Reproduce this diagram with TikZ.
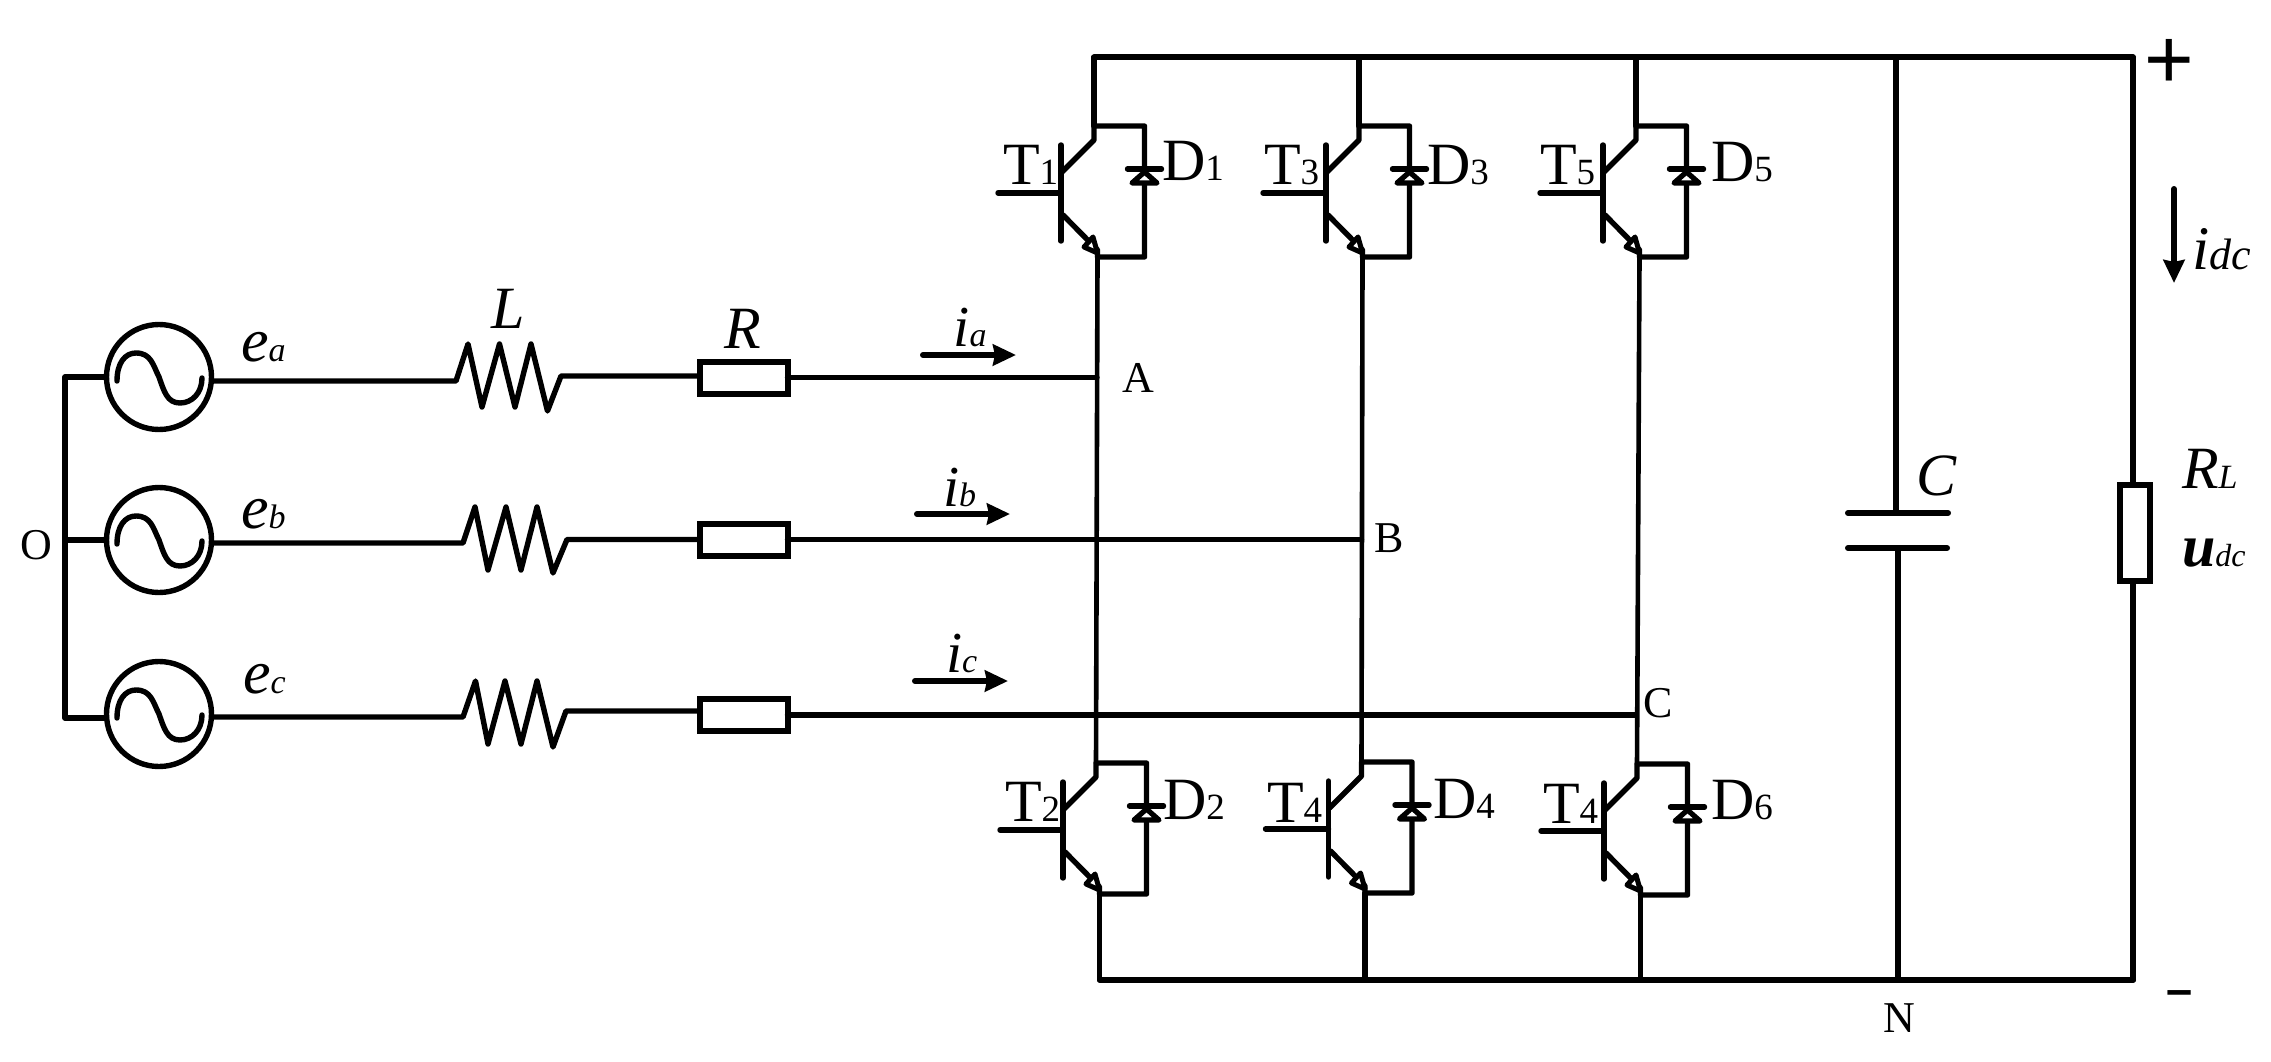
\documentclass[tikz,border=0pt]{standalone}
\usepackage{fontspec}
\setmainfont{Liberation Serif}
\newfontfamily\signfont{Liberation Sans}
\usetikzlibrary{arrows.meta}
\newcommand{\upsub}[2]{{\fontsize{60}{60}\selectfont #1}{\fontsize{37}{37}\selectfont #2}}
\newcommand{\itsub}[4]{{\itshape{\fontsize{#1}{#1}\selectfont #3}{\fontsize{#2}{#2}\selectfont #4}}}
\newcommand{\smallup}[1]{{\fontsize{44}{44}\selectfont #1}}
\tikzset{
  wire/.style={line width=5.4pt,line cap=round,line join=round},
  thin wire/.style={line width=4.6pt,line cap=round,line join=round},
  rail/.style={line width=6pt,line cap=round,line join=round},
  lab/.style={anchor=base west,inner sep=0pt,outer sep=0pt,text=black},
  res/.style={draw=black,fill=white,line width=6pt,inner sep=0pt,outer sep=0pt,rectangle},
  hres/.style={res,minimum width=88pt,minimum height=32pt},
  vres/.style={res,minimum width=30pt,minimum height=96pt},
  source/.style={draw=black,fill=white,line width=5.4pt,circle,inner sep=0pt,outer sep=0pt,minimum size=105pt},
  cur/.style={line width=6pt,line cap=round,-{Stealth[length=23pt,width=21pt,inset=2pt]}},
  pics/igbt/.style={code={
    \coordinate (-c) at (33,-67);
    \coordinate (-e) at (36.5,64);
    \draw[wire] (0,-48) -- (0,48);
    \draw[wire] (-63,0) -- (0,0);
    \draw[wire] (1,-21) -- (33,-53) -- (-c) -- (83.5,-67) -- (83.5,64) -- (-e);
    \draw[wire] (2,22) -- (36.5,57) -- (-e);
    \draw[line width=5pt,line join=round,fill=white] (36.5,60) -- (23,54) -- (32,44) -- cycle;
    \draw[wire] (66.5,-24) -- (100.5,-24);
    \draw[line width=5.2pt,line join=round,fill=white] (83.5,-21) -- (71,-10) -- (96,-10) -- cycle;
  }},
  pics/sine/.style={code={
    \draw[wire] (-42,4) .. controls (-42,-14) and (-34,-24) .. (-23,-24)
      .. controls (-8,-24) and (-6,-12) .. (0,0)
      .. controls (5,14) and (8,26) .. (21,26)
      .. controls (33,26) and (43,16) .. (43,1);
  }},
}
\begin{document}
\begin{tikzpicture}[x=1pt,y=-1pt]
\useasboundingbox (0,0) rectangle (2271,1062);
\fill[white] (0,0) rectangle (2271,1062);

% rails and fixed points
\coordinate (railTL) at (1094,57.5);
\coordinate (railTR) at (2133,57.5);
\coordinate (railBL) at (1100,980);
\coordinate (railBR) at (2133,980);
\coordinate (capTop) at (1896,57.5);
\coordinate (capA) at (1896,513);
\coordinate (capB) at (1898,548);
\coordinate (capBot) at (1898,980);
\coordinate (star1) at (65,377);
\coordinate (star3) at (65,718);
\coordinate (jA) at (1097,377.5);
\coordinate (jB) at (1361.5,539.5);
\coordinate (jC) at (1636,715);

% switches
\pic (T1) at (1061,193) {igbt};
\pic (T3) at (1326,193) {igbt};
\pic (T5) at (1603,193) {igbt};
\pic (T2) at (1063,830) {igbt};
\pic (T4) at (1328.5,829) {igbt};
\pic (T6) at (1604,831) {igbt};

\draw[rail] (railTL) -- (railTR);
\draw[rail] (railBL) -- (railBR);
\draw[wire] (railTL) -- (T1-c);
\draw[wire] (T3-c |- railTL) -- (T3-c);
\draw[wire] (T5-c |- railTL) -- (T5-c);
\draw[wire] (T2-e) -- (T2-e |- railBL);
\draw[wire] (T4-e) -- (T4-e |- railBL);
\draw[wire] (T6-e) -- (T6-e |- railBL);
\draw[thin wire] (T1-e) -- (T2-c);
\draw[thin wire] (T3-e) -- (T4-c);
\draw[thin wire] (T5-e) -- (T6-c);

% capacitor and load
\draw[wire] (capTop) -- (capA);
\draw[wire] (capB) -- (capBot);
\draw[rail] (1848,513) -- (capA) -- (1948,513);
\draw[rail] (1848,548) -- (capB) -- (1947,548);
\node[vres] (RL) at (2135,533) {};
\draw[wire] (railTR) -- (RL.north -| railTR);
\draw[wire] (RL.south -| railBR) -- (railBR);

% sources
\node[source] (ea) at (159,377) {};
\node[source] (eb) at (159,540) {};
\node[source] (ec) at (159,714) {};
\pic at (ea) {sine};
\pic at (eb) {sine};
\pic at (ec) {sine};
\draw[wire] (ea.west) -- (star1) -- (star3) -- (ec.west |- star3);
\draw[wire] (star1 |- eb) -- (eb.west);

% phase lines
\node[hres] (Ra) at (743.5,377.5) {};
\node[hres] (Rb) at (743.5,540) {};
\node[hres] (Rc) at (743.5,714.5) {};
\coordinate (La) at (456,381);
\coordinate (Lb) at (463,543);
\coordinate (Lc) at (463,717);
\coordinate (Ma) at (561,376);
\coordinate (Mb) at (567,539.5);
\coordinate (Mc) at (566,711);
\draw[wire] (ea.east |- La) -- (La) -- (468,344) -- (482,407) -- (499.5,344) -- (515,407) -- (531,344) -- (547.5,411) -- (Ma) -- (Ra.west |- Ma);
\draw[wire] (eb.east |- Lb) -- (Lb) -- (475,507) -- (488,570) -- (506,507) -- (521,570) -- (537,507) -- (553,573) -- (Mb) -- (Rb.west |- Mb);
\draw[wire] (ec.east |- Lc) -- (Lc) -- (475.5,681) -- (488,744) -- (505,681) -- (521,744) -- (537,681) -- (553,747) -- (Mc) -- (Rc.west |- Mc);
\draw[wire] (Ra.east) -- (jA);
\draw[wire] (Rb.east |- jB) -- (jB);
\draw[wire] (Rc.east |- jC) -- (jC);

% current arrows
\coordinate (ia1) at (923,355); \coordinate (ia2) at (1016,355);
\coordinate (ib1) at (917,514); \coordinate (ib2) at (1010,514);
\coordinate (ic1) at (915,681); \coordinate (ic2) at (1008,681);
\coordinate (id1) at (2174,189); \coordinate (id2) at (2174,283);
\draw[cur] (ia1) -- (ia2);
\draw[cur] (ib1) -- (ib2);
\draw[cur] (ic1) -- (ic2);
\draw[cur] (id1) -- (id2);

% labels
\node[lab] (lT1) at (1003,185) {\upsub{T}{1}};
\node[lab] (lD1) at (1162,181) {\upsub{D}{1}};
\node[lab] (lT3) at (1264,184) {\upsub{T}{3}};
\node[lab] (lD3) at (1427,185) {\upsub{D}{3}};
\node[lab] (lT5) at (1540,185) {\upsub{T}{5}};
\node[lab] (lD5) at (1711,182) {\upsub{D}{5}};
\node[lab] (lT2) at (1005,821) {\upsub{T}{2}};
\node[lab] (lD2) at (1163,819) {\upsub{D}{2}};
\node[lab] (lT4) at (1267,822) {\upsub{T}{4}};
\node[lab] (lD4) at (1433,818) {\upsub{D}{4}};
\node[lab] (lT6) at (1543,823) {\upsub{T}{4}};
\node[lab] (lD6) at (1711,819) {\upsub{D}{6}};
\node[lab] (lea) at (241,361) {\itsub{62}{34}{e}{a}};
\node[lab] (leb) at (241,528) {\itsub{62}{34}{e}{b}};
\node[lab] (lec) at (243,693) {\itsub{62}{34}{e}{c}};
\node[lab] (lL) at (491,328) {\itsub{60}{34}{L}{}};
\node[lab] (lR) at (724,348) {\itsub{60}{34}{R}{}};
\node[lab] (lia) at (953.5,346) {\itsub{58}{34}{i}{a}};
\node[lab] (lib) at (943,506) {\itsub{58}{34}{i}{b}};
\node[lab] (lic) at (946,672) {\itsub{58}{34}{i}{c}};
\node[lab] (lidc) at (2192,269) {\itsub{62}{44}{i}{dc}};
\node[lab] (lC) at (1916,495) {\itsub{60}{34}{C}{}};
\node[lab] (lRL) at (2182,488) {\itsub{60}{34}{R}{L}};
\node[lab] (ludc) at (2182,566) {\itsub{60}{32}{\bfseries u}{dc}};
\node[lab] (lA) at (1122,392) {\smallup{A}};
\node[lab] (lB) at (1374,552) {\smallup{B}};
\node[lab] (lCC) at (1643,717) {\smallup{C}};
\node[lab] (lO) at (20,559) {\smallup{O}};
\node[lab] (lN) at (1883,1032) {\smallup{N}};
\node[inner sep=0pt,outer sep=0pt] (plus) at (2169,64) {{\signfont\fontsize{85}{85}\selectfont +}};
\node[inner sep=0pt,outer sep=0pt] (minus) at (2180,998) {{\signfont\bfseries\fontsize{47}{47}\selectfont –}};
\end{tikzpicture}
\end{document}
